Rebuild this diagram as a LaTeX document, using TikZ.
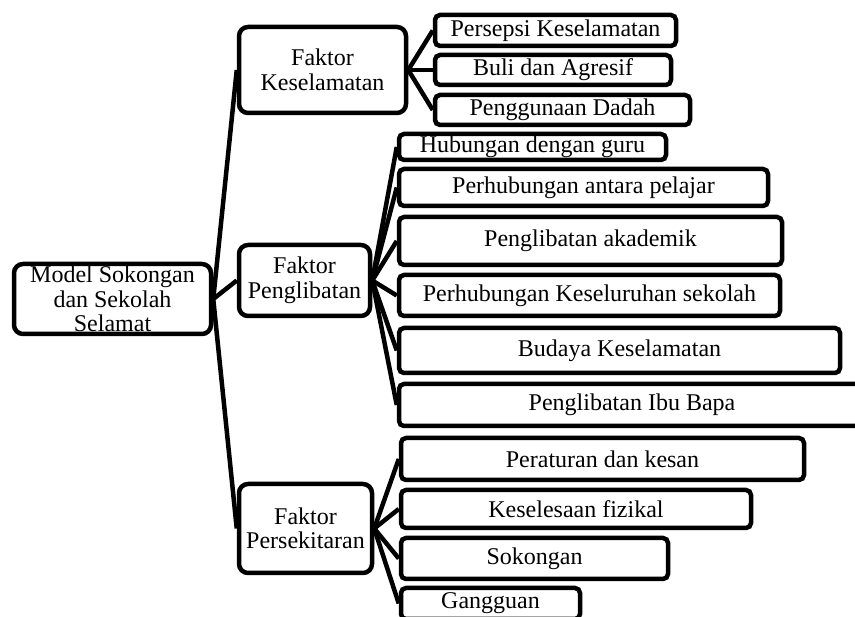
\documentclass[tikz,border=0pt]{standalone}
\usepackage{fontspec}
\setmainfont{Liberation Serif}

\tikzset{
    kotakinduk/.style={draw, line width=4.5pt, rounded corners=9pt, align=center, inner sep=0pt,
        font=\fontsize{24}{24.5}\selectfont},
    kotakdaun/.style={draw, line width=4.5pt, rounded corners=5pt, inner sep=0pt,
        font=\fontsize{24}{24.5}\selectfont},
    garis/.style={line width=4.5pt}
}

\begin{document}
\begin{tikzpicture}[x=1pt, y=-1pt]
    % --- Ukuran halaman ---
    \useasboundingbox (0,0) rectangle (855,617);
    \clip (0,0) rectangle (855,617);

    % --- Kotak utama dan tiga faktor ---
    \node[kotakinduk, minimum width=197pt, minimum height=70pt] (model) at (112.5,299) {Model Sokongan\\dan Sekolah\\Selamat};
    \node[kotakinduk, minimum width=167pt, minimum height=86pt] (keselamatan) at (322.5,70) {Faktor\\Keselamatan};
    \node[kotakinduk, minimum width=131pt, minimum height=71pt] (penglibatan) at (304.5,280.5) {Faktor\\Penglibatan};
    \node[kotakinduk, minimum width=133pt, minimum height=89pt] (persekitaran) at (305.5,528.5) {Faktor\\Persekitaran};

    % --- Faktor Keselamatan ---
    \node[kotakdaun, minimum width=241pt, minimum height=31pt] (persepsi) at (555.5,30.5) {Persepsi Keselamatan};
    \node[kotakdaun, minimum width=236pt, minimum height=30pt] (buli) at (553,70) {Buli dan Agresif};
    \node[kotakdaun, minimum width=255pt, minimum height=30pt] (dadah) at (562.5,110) {Penggunaan Dadah};

    % --- Faktor Penglibatan ---
    \node[kotakdaun, minimum width=267pt, minimum height=26pt] (guru) at (532.5,147) {Hubungan dengan guru};
    \node[kotakdaun, minimum width=369pt, minimum height=37pt] (pelajar) at (583.5,187.5) {Perhubungan antara pelajar};
    \node[kotakdaun, minimum width=383pt, minimum height=48pt] (akademik) at (590.5,241) {Penglibatan akademik};
    \node[kotakdaun, minimum width=381pt, minimum height=41pt] (sekolah) at (589.5,295.5) {Perhubungan Keseluruhan sekolah};
    \node[kotakdaun, minimum width=441pt, minimum height=45pt] (budaya) at (619.5,350.5) {Budaya Keselamatan};
    \node[kotakdaun, minimum width=466pt, minimum height=42pt] (ibubapa) at (632,405) {Penglibatan Ibu Bapa};

    % --- Faktor Persekitaran ---
    \node[kotakdaun, minimum width=403pt, minimum height=42pt] (peraturan) at (602.5,459) {Peraturan dan kesan};
    \node[kotakdaun, minimum width=350pt, minimum height=38pt] (fizikal) at (576,509) {Keselesaan fizikal};
    \node[kotakdaun, minimum width=267pt, minimum height=41pt] (sokongan) at (534.5,558.5) {Sokongan};
    \node[kotakdaun, minimum width=179pt, minimum height=31pt] (gangguan) at (490.5,603.5) {Gangguan};

    % --- Garis penghubung ---
    \draw[garis] (model.east) -- (keselamatan.west);
    \draw[garis] (model.east) -- (penglibatan.west);
    \draw[garis] (model.east) -- (persekitaran.west);

    \draw[garis] (keselamatan.east) -- (persepsi.west);
    \draw[garis] (keselamatan.east) -- (buli.west);
    \draw[garis] (keselamatan.east) -- (dadah.west);

    \draw[garis] (penglibatan.east) -- (guru.west);
    \draw[garis] (penglibatan.east) -- (pelajar.west);
    \draw[garis] (penglibatan.east) -- (akademik.west);
    \draw[garis] (penglibatan.east) -- (sekolah.west);
    \draw[garis] (penglibatan.east) -- (budaya.west);
    \draw[garis] (penglibatan.east) -- (ibubapa.west);

    \draw[garis] (persekitaran.east) -- (peraturan.west);
    \draw[garis] (persekitaran.east) -- (fizikal.west);
    \draw[garis] (persekitaran.east) -- (sokongan.west);
    \draw[garis] (persekitaran.east) -- (gangguan.west);
\end{tikzpicture}
\end{document}
